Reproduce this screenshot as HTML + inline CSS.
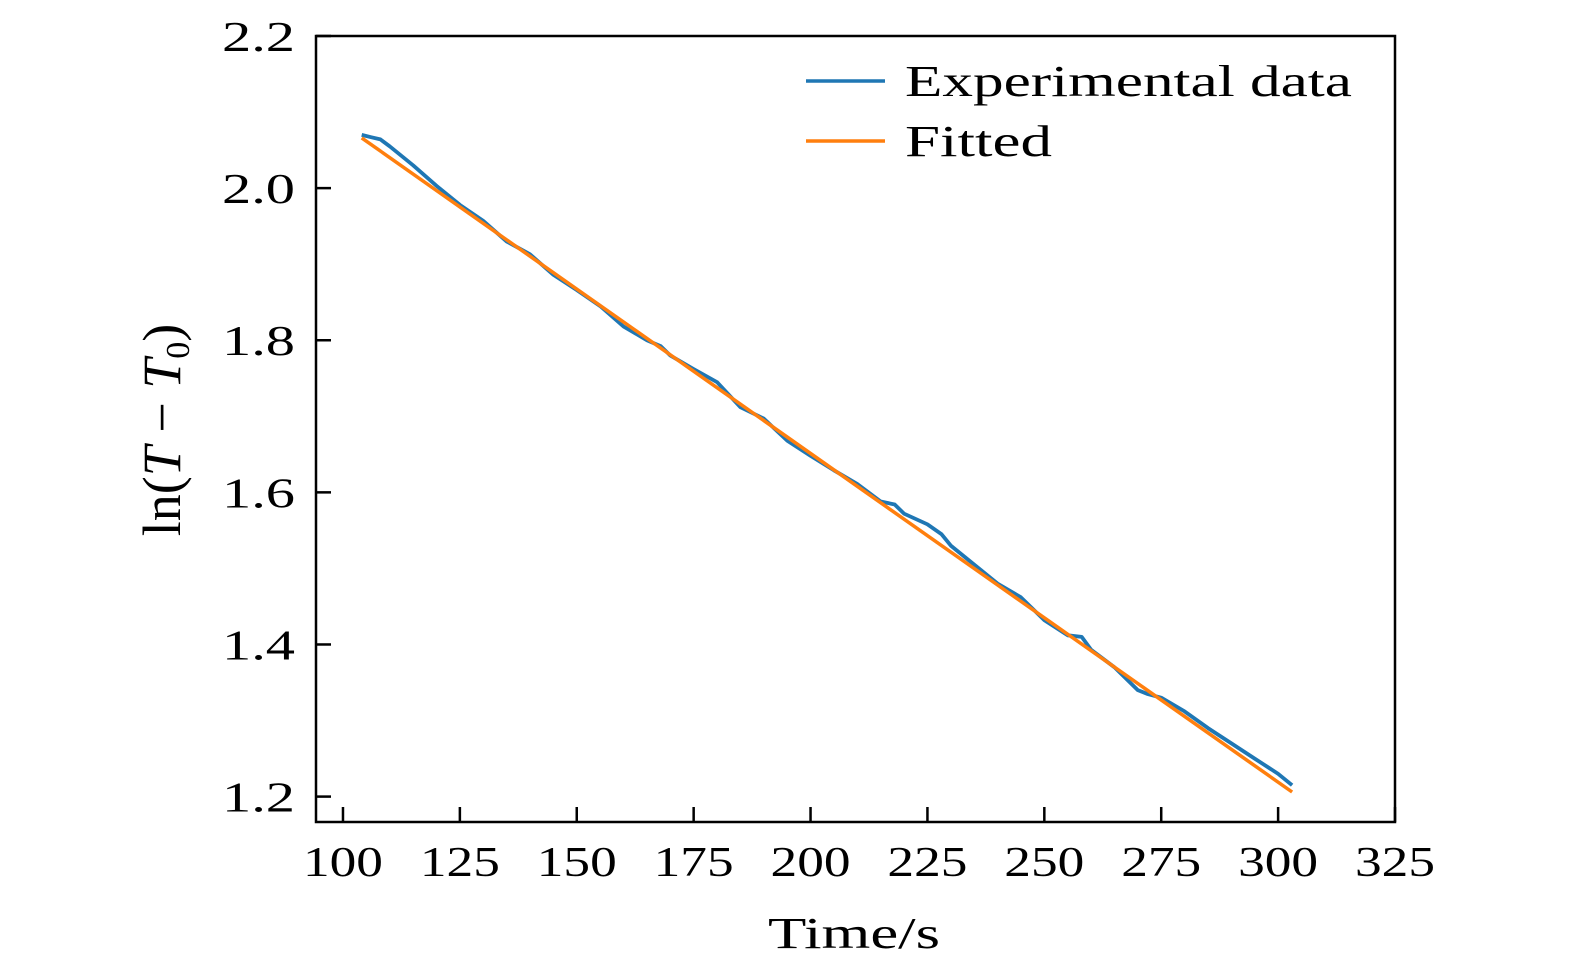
<!DOCTYPE html>
<html><head><meta charset="utf-8"><style>
html,body{margin:0;padding:0;background:#fff;}
svg{display:block;font-family:"Liberation Serif",serif;}
</style></head><body>
<svg width="1575" height="974" viewBox="0 0 1575 974" xmlns="http://www.w3.org/2000/svg">
<g id="plot"></g>
</svg>
<script>
const xTicks=[100,125,150,175,200,225,250,275,300,325];
const yTicks=[1.2,1.4,1.6,1.8,2.0,2.2];
const yTickLabels=["1.2","1.4","1.6","1.8","2.0","2.2"];
const expT=[104,106,108,110,115,120,125,130,135,140,145,150,155,160,165,168,170,175,180,185,190,195,200,205,210,215,218,220,225,228,230,235,240,245,250,255,258,260,265,270,272,275,280,285,290,295,300,303];
const expY=[2.070,2.067,2.064,2.055,2.030,2.003,1.978,1.957,1.930,1.913,1.886,1.866,1.845,1.818,1.800,1.792,1.780,1.762,1.745,1.712,1.697,1.668,1.648,1.629,1.611,1.588,1.584,1.572,1.558,1.545,1.530,1.505,1.480,1.462,1.432,1.412,1.410,1.393,1.370,1.340,1.335,1.330,1.312,1.290,1.270,1.250,1.230,1.215];
const fitT=[104,303];
const fitY=[2.066,1.206];

const L=316,R=1395,T=36,B=822;
const xMin=94.23,xMax=325,yMin=1.1666,yMax=2.2;
const xs=v=>L+(v-xMin)/(xMax-xMin)*(R-L);
const ys=v=>B-(v-yMin)/(yMax-yMin)*(B-T);
const NS="http://www.w3.org/2000/svg";
const g=document.getElementById('plot');
function mk(tag,attrs,parent){const e=document.createElementNS(NS,tag);for(const k in attrs)e.setAttribute(k,attrs[k]);(parent||g).appendChild(e);return e;}

let d=expT.map((t,i)=>(i?'L':'M')+xs(t).toFixed(1)+','+ys(expY[i]).toFixed(1)).join('');
let e1=mk('path',{d:d,fill:'none',stroke:'#1f77b4','stroke-width':3.8,'stroke-linejoin':'round'});


d=fitT.map((t,i)=>(i?'L':'M')+xs(t).toFixed(1)+','+ys(fitY[i]).toFixed(1)).join('');
let e2=mk('path',{d:d,fill:'none',stroke:'#ff7f0e','stroke-width':3.5});



let fr=mk('rect',{x:L,y:T,width:R-L,height:B-T,fill:'none',stroke:'#000','stroke-width':2.5});



xTicks.forEach(v=>{
  const x=xs(v);
  let t=mk('line',{x1:x,x2:x,y1:B,y2:B-15,stroke:'#000','stroke-width':2.5});
  
  
  let l=mk('text',{x:x-40,y:876,'font-size':42,fill:'#000',textLength:80,lengthAdjust:'spacingAndGlyphs'});
  l.textContent=v;
  
  
});
yTicks.forEach((v,i)=>{
  const y=ys(v);
  let t=mk('line',{x1:L,x2:L+15,y1:y,y2:y,stroke:'#000','stroke-width':2.5});
  
  
  let l=mk('text',{x:222,y:y+15,'font-size':42,fill:'#000',textLength:73,lengthAdjust:'spacingAndGlyphs'});
  l.textContent=yTickLabels[i];
  
  
});

let xt=mk('text',{x:768,y:948,'font-size':44,fill:'#000',textLength:172,lengthAdjust:'spacingAndGlyphs'});
xt.textContent='Time/s';



let yt=mk('text',{x:0,y:0,'text-anchor':'middle','font-size':54,fill:'#000',transform:'translate(180,430) rotate(-90)'});
yt.innerHTML='ln(<tspan font-style="italic">T</tspan> − <tspan font-style="italic">T</tspan><tspan font-size="34" dy="9">0</tspan><tspan dy="-9">)</tspan>';



[['Experimental data','#1f77b4',81,447],['Fitted','#ff7f0e',141,147]].forEach(([name,c,y,w])=>{
  let ln=mk('line',{x1:806,x2:885,y1:y,y2:y,stroke:c,'stroke-width':3.5});
  
  
  let tx=mk('text',{x:905,y:y+15,'font-size':44,fill:'#000',textLength:w,lengthAdjust:'spacingAndGlyphs'});
  tx.textContent=name;
  
  
});
</script>
</body></html>
